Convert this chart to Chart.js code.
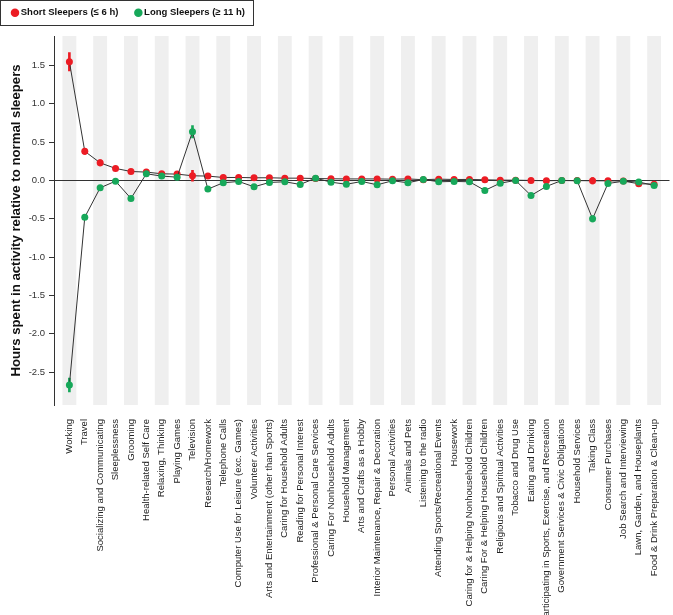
<!DOCTYPE html>
<html>
<head>
<meta charset="utf-8">
<script src="https://cdn.jsdelivr.net/npm/chart.js@4/dist/chart.umd.min.js"></script>
<style>
html, body { margin: 0; padding: 0; background: #fff; }
canvas { display: block; }
</style>
</head>
<body>
<canvas id="sleepChart" width="673" height="615"></canvas>
<script>
// activities, in the order of the x axis
var categories = [
  'Working', 'Travel', 'Socializing and Communicating', 'Sleeplessness', 'Grooming',
  'Health-related Self Care', 'Relaxing, Thinking', 'Playing Games', 'Television',
  'Research/Homework', 'Telephone Calls', 'Computer Use for Leisure (exc. Games)',
  'Volunteer Activities', 'Arts and Entertainment (other than Sports)',
  'Caring for Household Adults', 'Reading for Personal Interest',
  'Professional & Personal Care Services', 'Caring For Nonhousehold Adults',
  'Household Management', 'Arts and Crafts as a Hobby',
  'Interior Maintenance, Repair & Decoration', 'Personal Activities', 'Animals and Pets',
  'Listening to the radio', 'Attending Sports/Recreational Events', 'Housework',
  'Caring for & Helping Nonhousehold Children', 'Caring For & Helping Household Children',
  'Religious and Spiritual Activities', 'Tobacco and Drug Use', 'Eating and Drinking',
  'Participating in Sports, Exercise, and Recreation',
  'Government Services & Civic Obligations', 'Household Services', 'Taking Class',
  'Consumer Purchases', 'Job Search and Interviewing', 'Lawn, Garden, and Houseplants',
  'Food & Drink Preparation & Clean-up'
];

// hours relative to normal sleepers
var shortSleepers = [1.55, 0.38, 0.23, 0.157, 0.117, 0.109, 0.087, 0.083, 0.061, 0.057,
  0.039, 0.039, 0.035, 0.035, 0.03, 0.03, 0.025, 0.022, 0.02, 0.02,
  0.02, 0.017, 0.02, 0.01, 0.017, 0.013, 0.013, 0.009, 0.004, 0.004,
  0.0, -0.004, 0.0, -0.002, -0.004, -0.005, -0.008, -0.043, -0.048];
var longSleepers = [-2.67, -0.48, -0.096, -0.009, -0.235, 0.087, 0.057, 0.043, 0.635, -0.113,
  -0.03, -0.013, -0.083, -0.026, -0.017, -0.052, 0.03, -0.022, -0.05, -0.013,
  -0.057, -0.004, -0.03, 0.013, -0.017, -0.013, -0.017, -0.13, -0.035, 0.0,
  -0.196, -0.078, 0.0, -0.004, -0.5, -0.04, -0.01, -0.02, -0.065];

// error bar half widths
var shortErr = [0.12, 0.04, 0.04, 0.02, 0.015, 0.02, 0.015, 0.015, 0.07, 0.02,
  0.015, 0.015, 0.015, 0.015, 0.015, 0.015, 0.015, 0.015, 0.015, 0.015,
  0.015, 0.015, 0.015, 0.015, 0.015, 0.015, 0.015, 0.015, 0.015, 0.015,
  0.015, 0.015, 0.015, 0.015, 0.04, 0.015, 0.015, 0.015, 0.015];
var longErr = [0.09, 0.03, 0.03, 0.02, 0.03, 0.02, 0.015, 0.015, 0.08, 0.02,
  0.015, 0.015, 0.015, 0.015, 0.015, 0.015, 0.015, 0.015, 0.015, 0.015,
  0.015, 0.015, 0.015, 0.015, 0.015, 0.015, 0.015, 0.015, 0.015, 0.015,
  0.02, 0.015, 0.015, 0.015, 0.04, 0.015, 0.015, 0.015, 0.015];

var RED = '#ec1c24';
var GREEN = '#17a85a';
var FONT = '"Liberation Sans", Arial, sans-serif';

// axis runs from an empty slot before the first activity to one after the last
var labels = [''].concat(categories, ['']);
function pad(arr) { return [null].concat(arr, [null]); }
function bars(vals, err) {
  return pad(vals.map(function (v, i) { return [v - err[i], v + err[i]]; }));
}

// grey band behind every other activity
var bandsPlugin = {
  id: 'bands',
  beforeDraw: function (chart) {
    var x = chart.scales.x, a = chart.chartArea, ctx = chart.ctx;
    var step = x.getPixelForValue(1) - x.getPixelForValue(0);
    ctx.save();
    ctx.fillStyle = '#efefef';
    for (var i = 1; i <= categories.length; i += 2) {
      var cx = x.getPixelForValue(i);
      ctx.fillRect(cx - step * 0.45, a.top, step * 0.9, a.bottom - a.top);
    }
    ctx.restore();
  }
};

// legend: fixed 36px strip on top, items nudged into place, frame drawn round them
var LEGEND_PAD = 19;
var legendBox = {
  id: 'legendBox',
  afterInit: function (chart) {
    var lg = chart.legend;
    if (!lg) return;
    var fit = lg.fit;
    lg.fit = function () { fit.apply(this, arguments); this.height = 36; };
  },
  afterLayout: function (chart) {
    var lg = chart.legend;
    if (!lg) return;
    lg.top = 8 - LEGEND_PAD;
    lg.left = 14 - LEGEND_PAD;
  },
  afterDraw: function (chart) {
    var hb = chart.legend.legendHitBoxes;
    if (!hb || !hb.length) return;
    var last = hb[hb.length - 1];
    var ctx = chart.ctx;
    ctx.save();
    ctx.strokeStyle = '#333';
    ctx.lineWidth = 1;
    ctx.strokeRect(0.5, 0.5, Math.round(last.left + last.width) + 8, 25);
    ctx.restore();
  }
};

var ctx = document.getElementById('sleepChart').getContext('2d');
var chart = new Chart(ctx, {
  type: 'line',
  data: {
    labels: labels,
    datasets: [
      {
        label: 'Short Sleepers (\u2264 6 h)',
        data: pad(shortSleepers),
        borderColor: '#333',
        borderWidth: 1,
        backgroundColor: RED,
        pointBackgroundColor: RED,
        pointBorderColor: RED,
        pointBorderWidth: 0,
        pointRadius: 3.5,
        pointHoverRadius: 3.5,
        tension: 0,
        order: 2
      },
      {
        label: 'Long Sleepers (\u2265 11 h)',
        data: pad(longSleepers),
        borderColor: '#333',
        borderWidth: 1,
        backgroundColor: GREEN,
        pointBackgroundColor: GREEN,
        pointBorderColor: GREEN,
        pointBorderWidth: 0,
        pointRadius: 3.5,
        pointHoverRadius: 3.5,
        tension: 0,
        order: 1
      },
      {
        type: 'bar',
        label: 'short err',
        data: bars(shortSleepers, shortErr),
        backgroundColor: RED,
        barThickness: 2,
        grouped: false,
        order: 4
      },
      {
        type: 'bar',
        label: 'long err',
        data: bars(longSleepers, longErr),
        backgroundColor: GREEN,
        barThickness: 2,
        grouped: false,
        order: 3
      }
    ]
  },
  options: {
    responsive: false,
    devicePixelRatio: 1,
    animation: false,
    layout: { padding: { top: 0, right: 1, bottom: 0, left: 0 } },
    plugins: {
      tooltip: { enabled: false },
      legend: {
        position: 'top',
        align: 'start',
        labels: {
          usePointStyle: true,
          pointStyle: 'circle',
          boxWidth: 2,
          boxHeight: 6,
          padding: LEGEND_PAD,
          color: '#111',
          font: { family: FONT, size: 9.5, weight: 'bold' },
          filter: function (item) { return item.datasetIndex < 2; },
          sort: function (a, b) { return a.datasetIndex - b.datasetIndex; }
        }
      }
    },
    scales: {
      x: {
        type: 'category',
        offset: false,
        grid: { display: false },
        border: { display: false },
        ticks: {
          autoSkip: false,
          maxRotation: 90,
          minRotation: 90,
          padding: 6,
          color: '#222',
          font: { family: FONT, size: 9.5 }
        },
        afterFit: function (scale) {
          scale.height = 210;
          scale.paddingLeft = 0;
          scale.paddingRight = 0;
        }
      },
      y: {
        min: -2.93,
        max: 1.885,
        border: { display: true, color: '#333', width: 1 },
        grid: {
          color: function (c) { return c.tick && c.tick.value === 0 ? '#333' : 'rgba(0,0,0,0)'; },
          tickColor: '#333',
          tickLength: 5
        },
        ticks: {
          stepSize: 0.5,
          includeBounds: false,
          padding: 4,
          color: '#333',
          font: { family: FONT, size: 9.5 },
          callback: function (v) { return v.toFixed(1); }
        },
        title: {
          display: true,
          text: 'Hours spent in activity relative to normal sleepers',
          color: '#111',
          font: { family: FONT, size: 13.2, weight: 'bold' },
          padding: { top: 8, bottom: 0 }
        },
        afterFit: function (scale) { scale.width = 54; }
      }
    }
  },
  plugins: [bandsPlugin, legendBox]
});
</script>
</body>
</html>
